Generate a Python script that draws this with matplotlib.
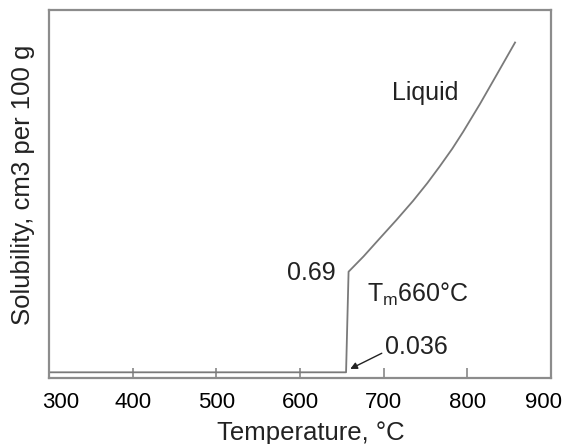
import matplotlib
matplotlib.use('Agg')
import matplotlib.pyplot as plt
import matplotlib.transforms as mtransforms

plt.rcParams['font.family'] = ['Liberation Sans', 'DejaVu Sans']
plt.rcParams['mathtext.fontset'] = 'custom'
plt.rcParams['mathtext.rm'] = 'Liberation Sans'

# solubility curve
temp = [300, 655, 658, 676, 695, 715, 735, 752, 767, 782, 795, 805, 815, 825, 835, 846, 857]
solubility = [0.036, 0.036, 0.69, 0.79, 0.905, 1.025, 1.15, 1.265, 1.375, 1.49,
              1.60, 1.69, 1.78, 1.875, 1.97, 2.075, 2.18]
xticks = [300, 400, 500, 600, 700, 800, 900]

fig = plt.figure(figsize=(5.64, 4.44), dpi=100)
ax = fig.add_axes([0.087, 0.149, 0.890, 0.828])

ax.plot(temp, solubility, color='#7a7a7a', lw=1.3)

ax.set_xlim(300, 900)
ax.set_ylim(0, 2.39)
ax.set_xticks(xticks)
ax.set_yticks([])
ax.tick_params(axis='x', direction='in', length=7, width=1.2, color='#888888',
               labelsize=16, pad=10)

# first and last labels sit a bit inside the frame in the original
labels = ax.get_xticklabels()
labels[0].set_transform(labels[0].get_transform() +
                        mtransforms.ScaledTranslation(12 / 100, 0, fig.dpi_scale_trans))
labels[-1].set_transform(labels[-1].get_transform() +
                         mtransforms.ScaledTranslation(-8 / 100, 0, fig.dpi_scale_trans))

for s in ax.spines.values():
    s.set_color('#8c8c8c')
    s.set_linewidth(1.6)

ax.set_xlabel('Temperature, °C', fontsize=18.5, color='#222222')
ax.xaxis.set_label_coords(0.522, -0.117)
ax.set_ylabel('Solubility, cm3 per 100 g', fontsize=18.5, color='#222222')
ax.yaxis.set_label_coords(-0.028, 0.525)

# annotations
ax.text(642, 0.68, '0.69', fontsize=18, color='#222222', ha='right', va='center')
ax.text(680, 0.54, r'T$_{\rm m}$660°C', fontsize=18, color='#222222', ha='left', va='center')
ax.text(710, 1.85, 'Liquid', fontsize=18, color='#222222', ha='left', va='center')
ax.annotate('0.036', xy=(660, 0.058), xytext=(701, 0.20), fontsize=18, color='#222222',
            ha='left', va='center',
            arrowprops=dict(arrowstyle='-|>', color='#222222', lw=1.0,
                            mutation_scale=10, shrinkA=0, shrinkB=0,
                            relpos=(0, 0.3)))

fig.savefig('out.png', dpi=100)
